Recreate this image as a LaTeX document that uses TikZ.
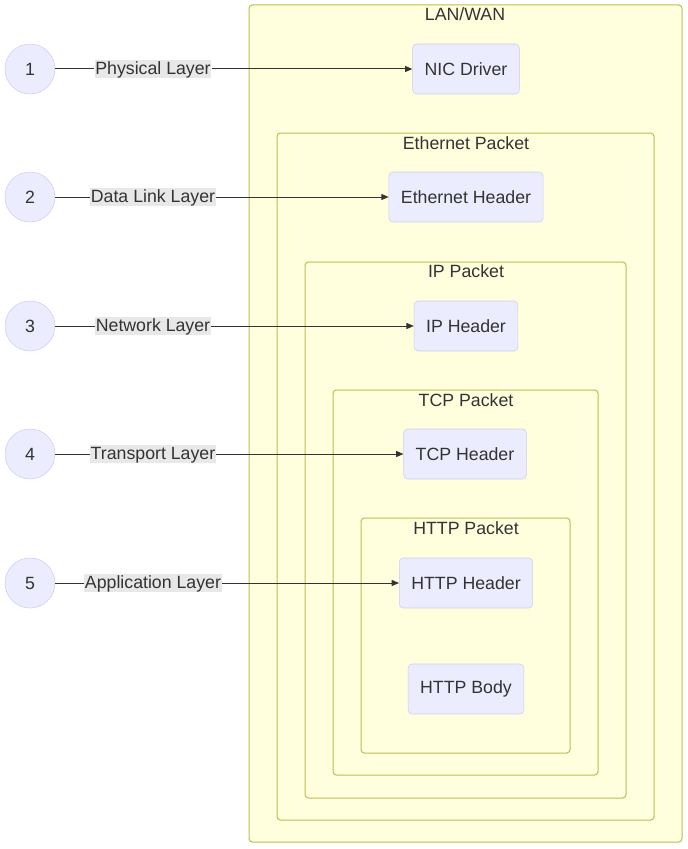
\documentclass[tikz,border=0pt]{standalone}
\usepackage{fontspec}
\setmainfont{Liberation Sans}
\usepackage{tikz}
\usetikzlibrary{arrows.meta, positioning}
\definecolor{nodeFill}{HTML}{ECECFF}
\definecolor{nodeLine}{HTML}{CCCCF5}
\definecolor{packetFill}{HTML}{FFFFDE}
\definecolor{packetLine}{HTML}{BDBD55}
\definecolor{textDark}{HTML}{333333}
\definecolor{labelBack}{HTML}{E8E8E8}

\begin{document}
\begin{tikzpicture}[x=0.75pt, y=-0.75pt,
    every node/.style={font=\fontsize{13.3}{16}\selectfont, text=textDark},
    layer/.style={circle, draw=nodeLine, fill=nodeFill, minimum size=37.5pt, inner sep=0pt},
    header/.style={rectangle, rounded corners=3pt, draw=nodeLine, fill=nodeFill, minimum height=37.5pt, inner xsep=9pt},
    packet/.style={draw=packetLine, fill=packetFill, line width=0.75pt, rounded corners=2.5pt},
    lbl/.style={fill=labelBack, inner sep=0.6pt, text height=10.7pt, text depth=1.8pt},
    wire/.style={draw=textDark, line width=0.75pt},
    link/.style={wire, -{Triangle[length=5.5pt,width=4.5pt]}}]
    \useasboundingbox (0,0) rectangle (688,849);

    % Paquetes anidados
    \draw[packet] (249,5) rectangle (682,842);
    \node at (465,14) {LAN/WAN};
    \draw[packet] (277,133) rectangle (654,820);
    \node at (466,143) {Ethernet Packet};
    \draw[packet] (305,262) rectangle (626,798);
    \node at (466,271) {IP Packet};
    \draw[packet] (333,390) rectangle (598,775);
    \node at (466,400) {TCP Packet};
    \draw[packet] (361,518) rectangle (570,753);
    \node at (466,528) {HTTP Packet};

    % Cabeceras
    \node[header] (nic) at (466,69) {NIC Driver};
    \node[header] (eth) at (466,197) {Ethernet Header};
    \node[header] (ip) at (466,326) {IP Header};
    \node[header] (tcp) at (465,454) {TCP Header};
    \node[header] (http) at (466,583) {HTTP Header};
    \node[header] (body) at (466,689) {HTTP Body};

    % Capas
    \node[layer] (one) at (30,69) {1};
    \node[layer] (two) at (30,197) {2};
    \node[layer] (three) at (30,326) {3};
    \node[layer] (four) at (30,454) {4};
    \node[layer] (five) at (30,583) {5};

    % Etiquetas de las capas
    \node[lbl] (phys) at (153,69) {Physical Layer};
    \node[lbl] (link) at (153,197) {Data Link Layer};
    \node[lbl] (net) at (153,326) {Network Layer};
    \node[lbl] (trans) at (153,454) {Transport Layer};
    \node[lbl] (app) at (153,583) {Application Layer};

    % Flechas
    \draw[wire] (one) -- (phys);
    \draw[link] (phys) -- (nic);
    \draw[wire] (two) -- (link);
    \draw[link] (link) -- (eth);
    \draw[wire] (three) -- (net);
    \draw[link] (net) -- (ip);
    \draw[wire] (four) -- (trans);
    \draw[link] (trans) -- (tcp);
    \draw[wire] (five) -- (app);
    \draw[link] (app) -- (http);
\end{tikzpicture}
\end{document}
